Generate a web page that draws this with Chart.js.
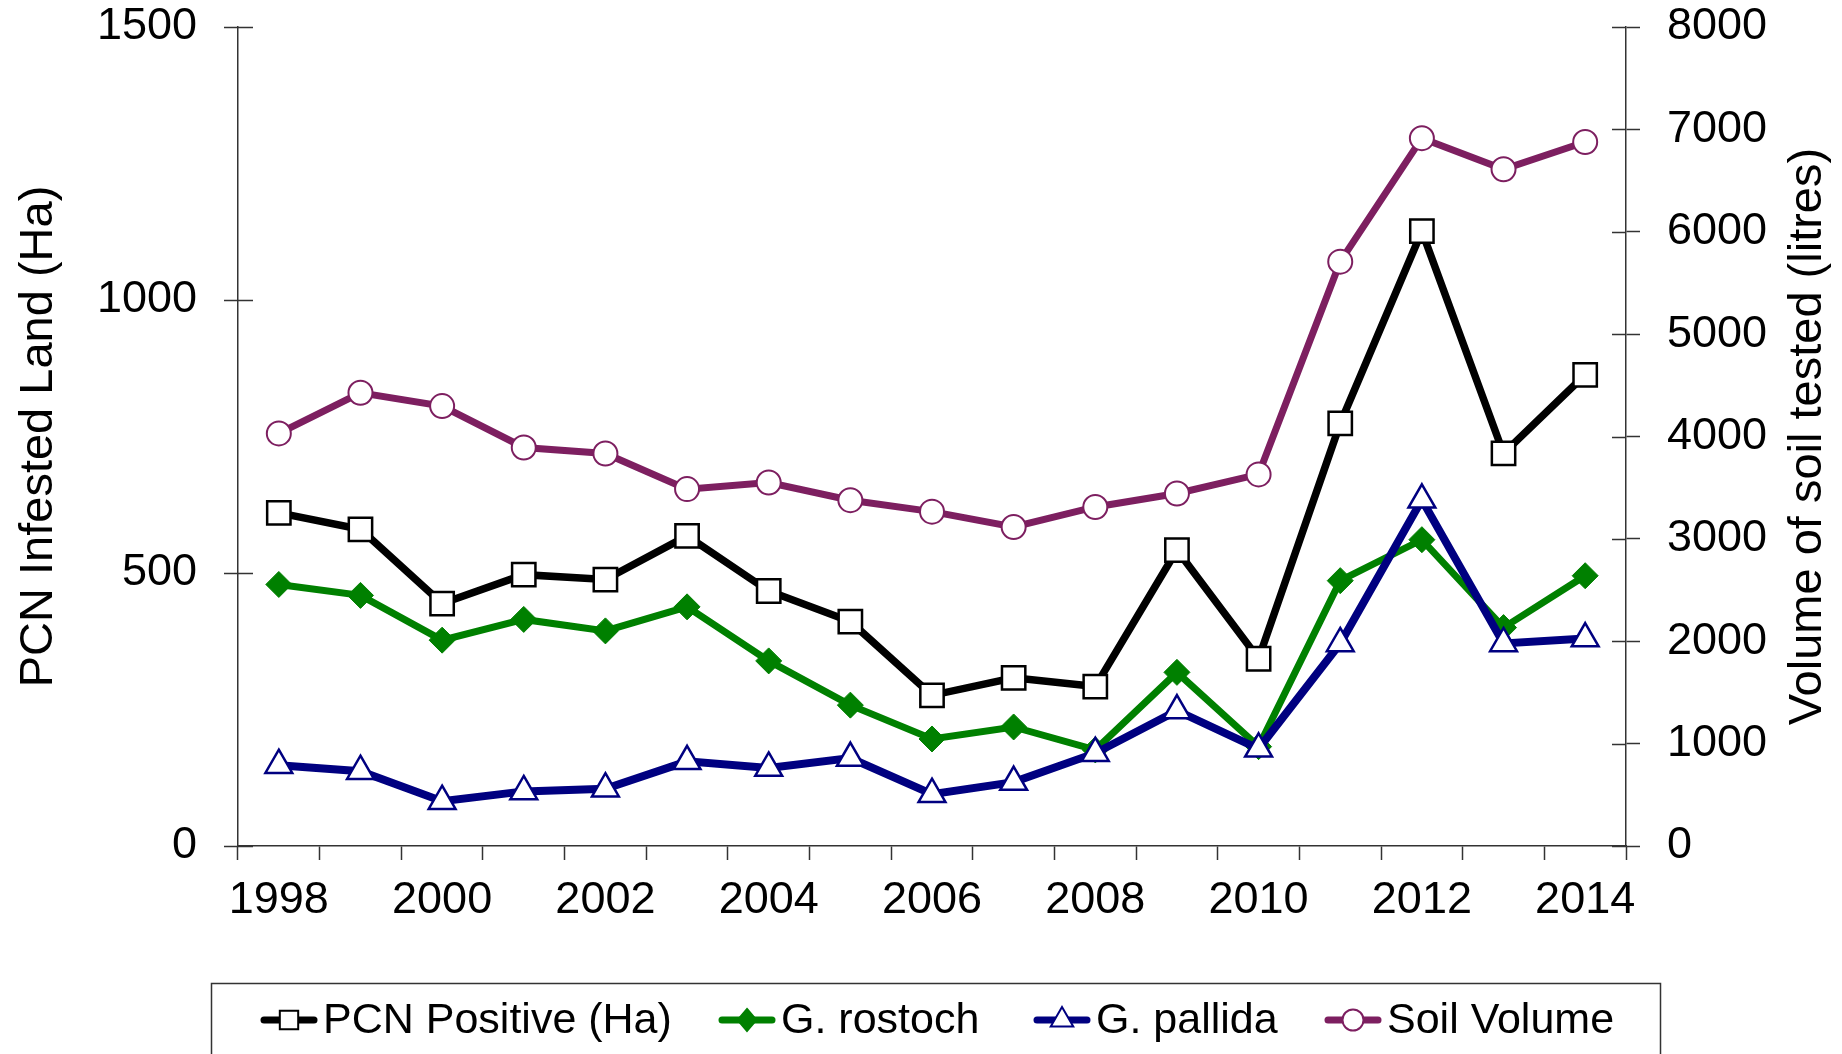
<!DOCTYPE html>
<html>
<head>
<meta charset="utf-8">
<title>PCN infested land and soil tested</title>
<script src="https://cdn.jsdelivr.net/npm/chart.js@4.4.1/dist/chart.umd.min.js"></script>
<style>
  html, body { margin: 0; padding: 0; background: #ffffff; }
  #wrap { width: 1842px; height: 1054px; overflow: hidden; }
</style>
</head>
<body>
<div id="wrap"><canvas id="chart" width="1842" height="1054"></canvas></div>
<script>
// data
const years = ['1998', '1999', '2000', '2001', '2002', '2003', '2004', '2005', '2006',
               '2007', '2008', '2009', '2010', '2011', '2012', '2013', '2014'];
const pcnPositive = [610, 580, 444, 497, 488, 568, 467, 411, 276, 308, 292, 542, 343, 774, 1126, 719, 863];
const gRostoch = [479, 459, 377, 415, 394, 438, 339, 258, 196, 218, 176, 318, 182, 486, 561, 400, 495];
const gPallida = [148, 137, 82, 100, 105, 155, 143, 161, 95, 117, 170, 248, 178, 371, 634, 371, 380];
const soilVolume = [4030, 4427, 4297, 3893, 3834, 3486, 3551, 3378, 3266, 3116, 3312, 3443, 3630, 5708, 6914, 6610, 6877];

const FONT = "'Liberation Sans', Arial, sans-serif";
const AXIS_COLOR = '#333333';
const PURPLE = '#7d1f60';
const GREEN = '#008000';
const NAVY = '#000080';

// legend entries (drawn by the plugin below, Excel style: line + marker)
const legendItems = [
  { text: 'PCN Positive (Ha)', color: '#000000', style: 'rect', fill: '#ffffff', r: 13, x: 261 },
  { text: 'G. rostoch', color: GREEN, style: 'rectRot', fill: GREEN, r: 11, x: 719 },
  { text: 'G. pallida', color: NAVY, style: 'triangle', fill: '#ffffff', r: 13, x: 1034 },
  { text: 'Soil Volume', color: PURPLE, style: 'circle', fill: '#ffffff', r: 10.5, x: 1325 }
];

function marker(ctx, style, x, y, r, fill, stroke, bw) {
  ctx.beginPath();
  if (style === 'rect') {
    const s = r * Math.SQRT1_2;
    ctx.rect(x - s, y - s, 2 * s, 2 * s);
  } else if (style === 'rectRot') {
    ctx.moveTo(x, y - r); ctx.lineTo(x + r * 0.85, y); ctx.lineTo(x, y + r); ctx.lineTo(x - r * 0.85, y); ctx.closePath();
  } else if (style === 'triangle') {
    ctx.moveTo(x, y - r);
    ctx.lineTo(x + r * 0.866, y + r * 0.5);
    ctx.lineTo(x - r * 0.866, y + r * 0.5);
    ctx.closePath();
  } else {
    ctx.arc(x, y, r, 0, Math.PI * 2);
  }
  ctx.fillStyle = fill; ctx.fill();
  ctx.lineWidth = bw; ctx.strokeStyle = stroke; ctx.stroke();
}

const extras = {
  id: 'extras',
  beforeDatasetsDraw(chart) {
    // inner half of the crossing tick marks on both value axes
    const ctx = chart.ctx;
    const yL = chart.scales.y, yR = chart.scales.y1;
    ctx.save();
    ctx.strokeStyle = AXIS_COLOR;
    ctx.lineWidth = 1.5;
    ctx.beginPath();
    yL.ticks.forEach(t => {
      const py = Math.round(yL.getPixelForValue(t.value)) + 0.5;
      ctx.moveTo(yL.right, py); ctx.lineTo(yL.right + 15, py);
    });
    yR.ticks.forEach(t => {
      const py = Math.round(yR.getPixelForValue(t.value)) + 0.5;
      ctx.moveTo(yR.left, py); ctx.lineTo(yR.left - 14, py);
    });
    ctx.stroke();
    ctx.restore();
  },
  afterDraw(chart) {
    const ctx = chart.ctx;
    const area = chart.chartArea;
    const midY = (area.top + area.bottom) / 2;
    ctx.save();
    ctx.fillStyle = '#000000';
    ctx.font = '47px ' + FONT;
    ctx.textAlign = 'center';
    ctx.textBaseline = 'middle';
    // axis titles, both reading bottom to top
    [[39, 'PCN Infested Land (Ha)'], [1808, 'Volume of soil tested (litres)']].forEach(([tx, label]) => {
      ctx.save();
      ctx.translate(tx, midY);
      ctx.rotate(-Math.PI / 2);
      ctx.fillText(label, 0, 0);
      ctx.restore();
    });

    // legend box
    ctx.strokeStyle = AXIS_COLOR;
    ctx.lineWidth = 1.5;
    ctx.strokeRect(211.5, 983.5, 1449, 120);
    const ly = 1020;
    ctx.font = '43px ' + FONT;
    ctx.textAlign = 'left';
    legendItems.forEach(it => {
      ctx.beginPath();
      ctx.strokeStyle = it.color;
      ctx.lineWidth = 7;
      ctx.lineCap = 'round';
      ctx.moveTo(it.x + 3, ly); ctx.lineTo(it.x + 53, ly);
      ctx.stroke();
      marker(ctx, it.style, it.x + 28, ly, it.r, it.fill, it.color, 2);
      ctx.fillStyle = '#000000';
      ctx.fillText(it.text, it.x + 62, ly + 1);
    });
    ctx.restore();
  }
};

const plainTick = v => String(v);
// keep the plot top where the reference has it
const noTopPad = w => s => { s.width = w; s.paddingTop = 0; };

new Chart(document.getElementById('chart'), {
  type: 'line',
  data: {
    labels: years,
    datasets: [
      {
        label: 'PCN Positive (Ha)', data: pcnPositive, yAxisID: 'y', order: 4,
        borderColor: '#000000', borderWidth: 7.5,
        pointStyle: 'rect', pointRadius: 16.5, pointBackgroundColor: '#ffffff',
        pointBorderColor: '#000000', pointBorderWidth: 2.5
      },
      {
        label: 'G. rostoch', data: gRostoch, yAxisID: 'y', order: 3,
        borderColor: GREEN, borderWidth: 7,
        pointStyle: 'rectRot', pointRadius: 13, pointBackgroundColor: GREEN,
        pointBorderColor: GREEN, pointBorderWidth: 1
      },
      {
        label: 'G. pallida', data: gPallida, yAxisID: 'y', order: 2,
        borderColor: NAVY, borderWidth: 8,
        pointStyle: 'triangle', pointRadius: 15.5, pointBackgroundColor: '#ffffff',
        pointBorderColor: NAVY, pointBorderWidth: 2.5
      },
      {
        label: 'Soil Volume', data: soilVolume, yAxisID: 'y1', order: 1,
        borderColor: PURPLE, borderWidth: 7,
        pointStyle: 'circle', pointRadius: 12, pointBackgroundColor: '#ffffff',
        pointBorderColor: PURPLE, pointBorderWidth: 2
      }
    ]
  },
  options: {
    responsive: false,
    animation: false,
    devicePixelRatio: 1,
    layout: { padding: { top: 27, left: 0, right: 0, bottom: 0 } },
    elements: { line: { tension: 0 } },
    plugins: { legend: { display: false }, tooltip: { enabled: false } },
    scales: {
      x: {
        type: 'category',
        offset: true,
        grid: { offset: true, drawOnChartArea: false, drawTicks: true, tickLength: 14, tickColor: AXIS_COLOR, tickWidth: 1.5 },
        border: { color: AXIS_COLOR, width: 1.5 },
        ticks: {
          autoSkip: false, maxRotation: 0, padding: 14,
          color: '#000000', font: { family: FONT, size: 45 },
          callback: function (val, i) { return i % 2 === 0 ? this.getLabelForValue(val) : ''; }
        },
        afterFit: s => { s.height = 208; }
      },
      y: {
        position: 'left', min: 0, max: 1500,
        grid: { drawOnChartArea: false, tickLength: 14, tickColor: AXIS_COLOR, tickWidth: 1.5 },
        border: { color: AXIS_COLOR, width: 1.5 },
        ticks: { stepSize: 500, padding: 27, color: '#000000', font: { family: FONT, size: 45 }, callback: plainTick },
        afterFit: noTopPad(238)
      },
      y1: {
        position: 'right', min: 0, max: 8000,
        grid: { drawOnChartArea: false, tickLength: 14, tickColor: AXIS_COLOR, tickWidth: 1.5 },
        border: { color: AXIS_COLOR, width: 1.5 },
        ticks: { stepSize: 1000, padding: 27, color: '#000000', font: { family: FONT, size: 45 }, callback: plainTick },
        afterFit: noTopPad(216)
      }
    }
  },
  plugins: [extras]
});
</script>
</body>
</html>
